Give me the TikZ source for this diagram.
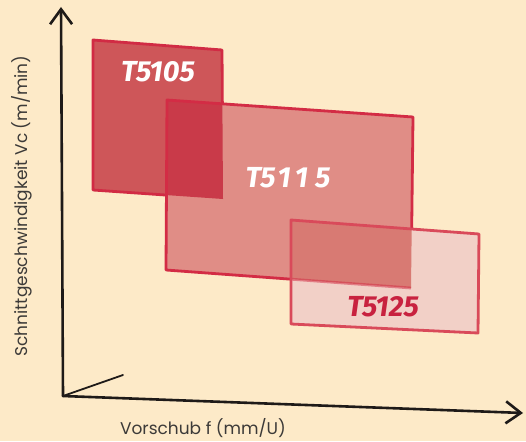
\documentclass[tikz,border=0pt]{standalone}
\usepackage{fontspec}
\usetikzlibrary{arrows.meta}
\newfontfamily\axisfont{Poppins}
\newfontfamily\typefont{Fira Sans}

\definecolor{cream}{HTML}{FDEAC8}
\definecolor{axisblack}{HTML}{1E1A18}
\definecolor{axistext}{HTML}{3C3A38}
\definecolor{redA}{HTML}{CE5659}
\definecolor{redAB}{HTML}{C93A49}
\definecolor{redB}{HTML}{E08D86}
\definecolor{redBC}{HTML}{D87A73}
\definecolor{redC}{HTML}{F2D0C7}
\definecolor{edgeA}{HTML}{D12B44}
\definecolor{edgeB}{HTML}{D32C45}
\definecolor{edgeC}{HTML}{D94A5A}
\definecolor{labelred}{HTML}{C8223F}

\tikzset{
  axis/.style={line width=2.6pt, line cap=round, draw=axisblack},
  tool/.style={line width=2.8pt, line join=round},
  toollabel/.style={font=\typefont\bfseries\itshape\fontsize{29}{29}\selectfont, text=white, inner sep=0pt},
  axislabel/.style={font=\axisfont\fontsize{17}{17}\selectfont, text=axistext, inner sep=0pt},
}

\begin{document}
\begin{tikzpicture}[x=1pt, y=-1pt]
        % Background
        \fill[cream] (0,0) rectangle (526,441);
        \useasboundingbox (0,0) rectangle (526,441);

        % Corners of the three ranges
        \coordinate (a1) at (93,40);
        \coordinate (a2) at (222,50);
        \coordinate (a3) at (223,199);
        \coordinate (a4) at (93,190);
        \coordinate (b1) at (167,100);
        \coordinate (b2) at (413,117);
        \coordinate (b3) at (411,288);
        \coordinate (b4) at (166,270);
        \coordinate (c1) at (291,220);
        \coordinate (c2) at (479,234);
        \coordinate (c3) at (478,333);
        \coordinate (c4) at (291,324);

        % T5105
        \filldraw[tool, fill=redA, draw=edgeA] (a1) -- (a2) -- (a3) -- (a4) -- cycle;

        % T5115
        \fill[redB] (b1) -- (b2) -- (b3) -- (b4) -- cycle;
        \begin{scope}
            \clip (a1) -- (a2) -- (a3) -- (a4) -- cycle;
            \fill[redAB] (b1) -- (b2) -- (b3) -- (b4) -- cycle;
        \end{scope}
        \draw[tool, edgeB] (b1) -- (b2) -- (b3) -- (b4) -- cycle;

        % T5125
        \fill[redC] (c1) -- (c2) -- (c3) -- (c4) -- cycle;
        \begin{scope}
            \clip (b1) -- (b2) -- (b3) -- (b4) -- cycle;
            \fill[redBC] (c1) -- (c2) -- (c3) -- (c4) -- cycle;
        \end{scope}
        \begin{scope}
            \clip (c1) -- (c2) -- (c3) -- (c4) -- cycle;
            \draw[tool, edgeB, opacity=0.5] (b3) -- (b4);
        \end{scope}
        \draw[tool, edgeC] (c1) -- (c2) -- (c3) -- (c4) -- cycle;

        % Labels of the ranges
        \node[toollabel] (t5105) at (158,72) {T5105};
        \node[toollabel] (t5115) at (288,178) {T5\kern2pt1\kern4pt1\kern7pt5};
        \node[toollabel, text=labelred] (t5125) at (383,307) {T5125};

        % Axes
        \coordinate (origin) at (63,396);
        \coordinate (ytip) at (61,7);
        \coordinate (xtip) at (523,413);
        \coordinate (tick) at (123,375);
        \draw[axis, -{Straight Barb[length=15pt, width=22pt]}] (origin) -- (ytip);
        \draw[axis, -{Straight Barb[length=15pt, width=22pt]}] (origin) -- (xtip);
        \draw[axis, line width=1.8pt] (origin) -- (tick);

        % Axis labels
        \node[axislabel, rotate=90] (ylabel) at (22,206) {Schnittgeschwindigkeit Vc (m/min)};
        \node[axislabel] (xlabel) at (203,428) {Vorschub f (mm/U)};
    \end{tikzpicture}
\end{document}
